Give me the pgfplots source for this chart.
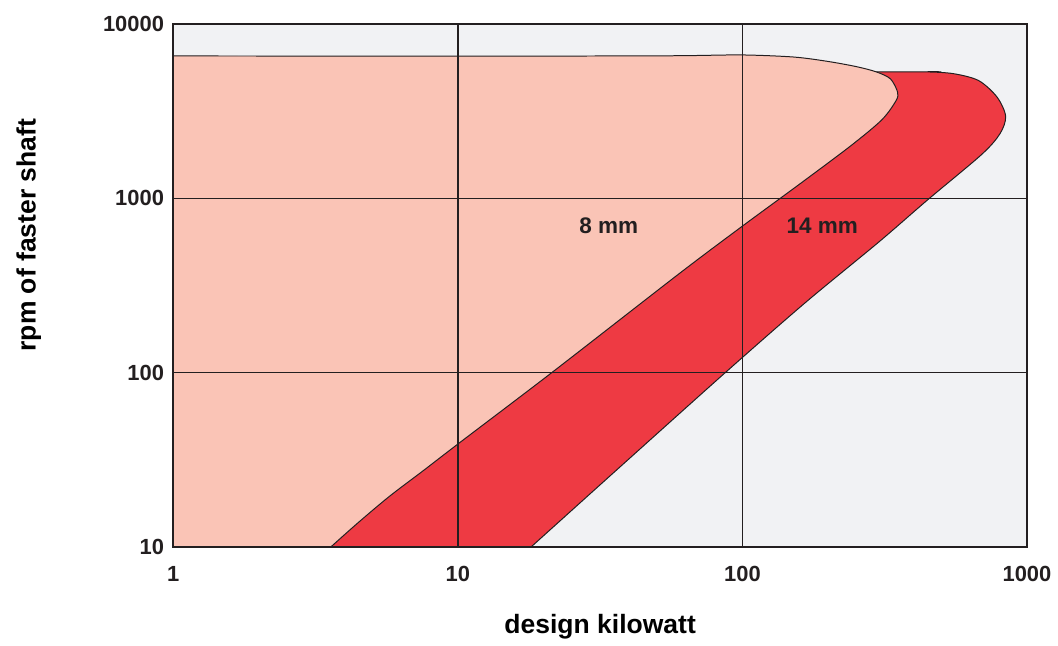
\documentclass[border=0pt]{standalone}
\usepackage{pgfplots}
\pgfplotsset{compat=1.18}
\usepackage{fontspec}
\setmainfont{Liberation Sans}
\definecolor{lightsal}{RGB}{250,196,182}
\definecolor{darkred}{RGB}{238,58,67}
\definecolor{bggray}{RGB}{241,242,244}
\definecolor{ink}{RGB}{35,31,32}
\begin{document}
\begin{tikzpicture}
\begin{axis}[
  scale only axis,
  width=428.5pt, height=262.5pt,
  xmode=log, ymode=log,
  xmin=1, xmax=1000, ymin=10, ymax=10000,
  xtick={1,10,100,1000}, xticklabels={1,10,100,1000},
  ytick={10,100,1000,10000}, yticklabels={10,100,1000,10000},
  major tick length=0pt, minor tick length=0pt,
  tick style={draw=none},
  grid=major,
  major grid style={draw=ink, line width=0.65pt},
  axis line style={draw=ink, line width=0.9pt},
  axis background/.style={fill=bggray},
  axis on top,
  /pgf/number format/assume math mode=true,
  ticklabel style={font=\fontsize{11}{13}\selectfont\bfseries, text=ink},
  xticklabel style={anchor=center, yshift=-13.75pt},
  yticklabel style={anchor=east, inner sep=0pt, xshift=-4.5pt},
  xlabel={design kilowatt},
  ylabel={rpm of faster shaft},
  label style={font=\fontsize{13.3}{15}\selectfont\bfseries, text=black},
  xlabel style={at={(axis description cs:0.5,0)}, anchor=center, yshift=-40pt},
  ylabel style={at={(axis description cs:0,0.596)}, anchor=center, yshift=72.5pt},
]
% 14 mm region
\addplot[fill=darkred, draw=ink, line width=0.5pt, smooth, tension=0.5] coordinates {
(1,10) (18.1,10) (18.1,10) (35.5,26.9) (87.1,100) (166,251) (302,562)
(447,977) (691.8,1778) (803.5,2344) (841.4,2951) (785.2,3802) (676.1,4732)
(549.5,5188) (436.5,5309) (316.2,5309) (1,5309) (1,5309)
} -- cycle;
% 8 mm region
\addplot[fill=lightsal, draw=ink, line width=0.5pt, smooth, tension=0.5] coordinates {
(1,10) (1,6546) (1,6546) (31.6,6546) (63.1,6577) (100,6637) (151.4,6457)
(199.5,6095) (251.2,5689) (295.1,5309) (331.1,4842) (350.8,4074) (346.7,3631)
(309,2818) (239.9,1995) (158.5,1202) (100,692) (60.3,372) (21.4,100) (10,38.9)
(7.59,27.5) (5.75,19.5) (4.47,13.8) (3.58,10) (3.58,10)
} -- cycle;
\node[font=\fontsize{11.3}{13}\selectfont\bfseries, text=ink] at (axis cs:33.9,691) {8 mm};
\node[font=\fontsize{11.3}{13}\selectfont\bfseries, text=ink] at (axis cs:190.9,691) {14 mm};
\end{axis}
\path[use as bounding box] (-87pt,-46.5pt) rectangle (442pt,274.5pt);
\end{tikzpicture}
\end{document}
